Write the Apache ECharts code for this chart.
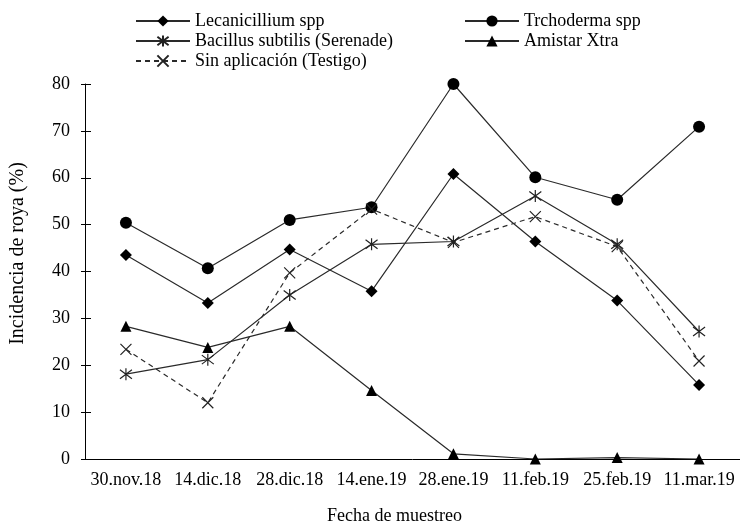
<!DOCTYPE html>
<html><head><meta charset="utf-8">
<script src="https://cdn.jsdelivr.net/npm/echarts@6/dist/echarts.min.js"></script>
<style>html,body{margin:0;padding:0;background:#fff}#c{width:740px;height:530px}</style>
</head><body><div id="c"></div>
<script>
const categories = ['30.nov.18','14.dic.18','28.dic.18','14.ene.19','28.ene.19','11.feb.19','25.feb.19','11.mar.19'];
const yTicks = [0,10,20,30,40,50,60,70,80];
const lecanicillium = [43.5, 33.3, 44.7, 35.8, 60.8, 46.4, 33.8, 15.8];
const trichoderma   = [50.4, 40.7, 51.0, 53.7, 80.0, 60.1, 55.3, 70.9];
const bacillus      = [18.1, 21.2, 35.0, 45.8, 46.4, 56.1, 45.8, 27.2];
const amistar       = [28.3, 23.8, 28.3, 14.6, 1.1, 0.0, 0.3, 0.0];
const testigo       = [23.4, 12.0, 39.7, 53.3, 46.2, 51.7, 45.3, 20.9];
const names = ['Lecanicillium spp','Trchoderma spp','Bacillus subtilis (Serenade)','Amistar Xtra','Sin aplicación (Testigo)'];

const FONT = '"Liberation Serif", "DejaVu Serif", serif';
const FS = 18;
const asterisk = 'path://M0,-10L0,10M-7.5,-7.5L7.5,7.5M-7.5,7.5L7.5,-7.5';
const cross = 'path://M-8,-8L8,8M-8,8L8,-8';

function mk(name, data, symbol, size, dashed, hollow) {
  return {
    name, type: 'line', data, symbol, symbolSize: size,
    lineStyle: {color: '#2a2a2a', width: 1.2, type: dashed ? [5,4] : 'solid'},
    itemStyle: hollow ? {color: 'rgba(0,0,0,0)', borderColor: '#222', borderWidth: 1.2}
                      : {color: '#000', borderColor: '#000', borderWidth: 0},
    emphasis: {disabled: true}, animation: false, z: 3
  };
}

const chart = echarts.init(document.getElementById('c'));
const txt = {fontFamily: FONT, fontSize: FS, color: '#000', fontWeight: 'normal'};
chart.setOption({
  backgroundColor: '#fff',
  textStyle: {fontFamily: FONT},
  animation: false,
  grid: {left: 80, right: 0, top: 84, bottom: 67, containLabel: false},
  legend: [
    {data: [names[0], names[2], names[4]], orient: 'vertical', left: 130, top: 7,
     itemWidth: 54, itemHeight: 14, itemGap: 2,
     textStyle: txt},
    {data: [names[1], names[3]], orient: 'vertical', left: 459, top: 7,
     itemWidth: 54, itemHeight: 14, itemGap: 2,
     textStyle: txt}
  ],
  xAxis: {
    type: 'category', data: categories, boundaryGap: true,
    name: 'Fecha de muestreo', nameLocation: 'middle', nameGap: 48,
    nameTextStyle: Object.assign({}, txt, {padding: [0, 36, 0, 0]}),
    axisLine: {lineStyle: {color: '#000', width: 1}},
    axisTick: {inside: true, length: 5, lineStyle: {color: '#000'}},
    axisLabel: Object.assign({interval: 0, margin: 12}, txt),
    splitLine: {show: false}
  },
  yAxis: [{
    type: 'value', min: yTicks[0], max: yTicks[yTicks.length-1], interval: 10,
    name: 'Incidencia de roya (%)', nameLocation: 'middle', nameGap: 57, nameRotate: 90,
    nameTextStyle: Object.assign({}, txt, {fontSize: 20, padding: [0, 0, 0, 36]}),
    axisLine: {show: true, lineStyle: {color: '#000', width: 1}},
    axisTick: {show: true, length: 4, lineStyle: {color: '#000'}},
    axisLabel: Object.assign({margin: 15}, txt),
    splitLine: {show: false}
  },{
    type: 'value', min: yTicks[0], max: yTicks[yTicks.length-1], interval: 10, position: 'left',
    axisLine: {show: false},
    axisTick: {show: true, inside: true, length: 6, lineStyle: {color: '#000'}},
    axisLabel: {show: false}, splitLine: {show: false}
  }],
  series: [
    mk(names[0], lecanicillium, 'diamond', 12, false, false),
    mk(names[1], trichoderma, 'circle', 12, false, false),
    mk(names[2], bacillus, asterisk, 12, false, true),
    mk(names[3], amistar, 'triangle', 11, false, false),
    mk(names[4], testigo, cross, 11, true, true)
  ]
});
</script></body></html>
